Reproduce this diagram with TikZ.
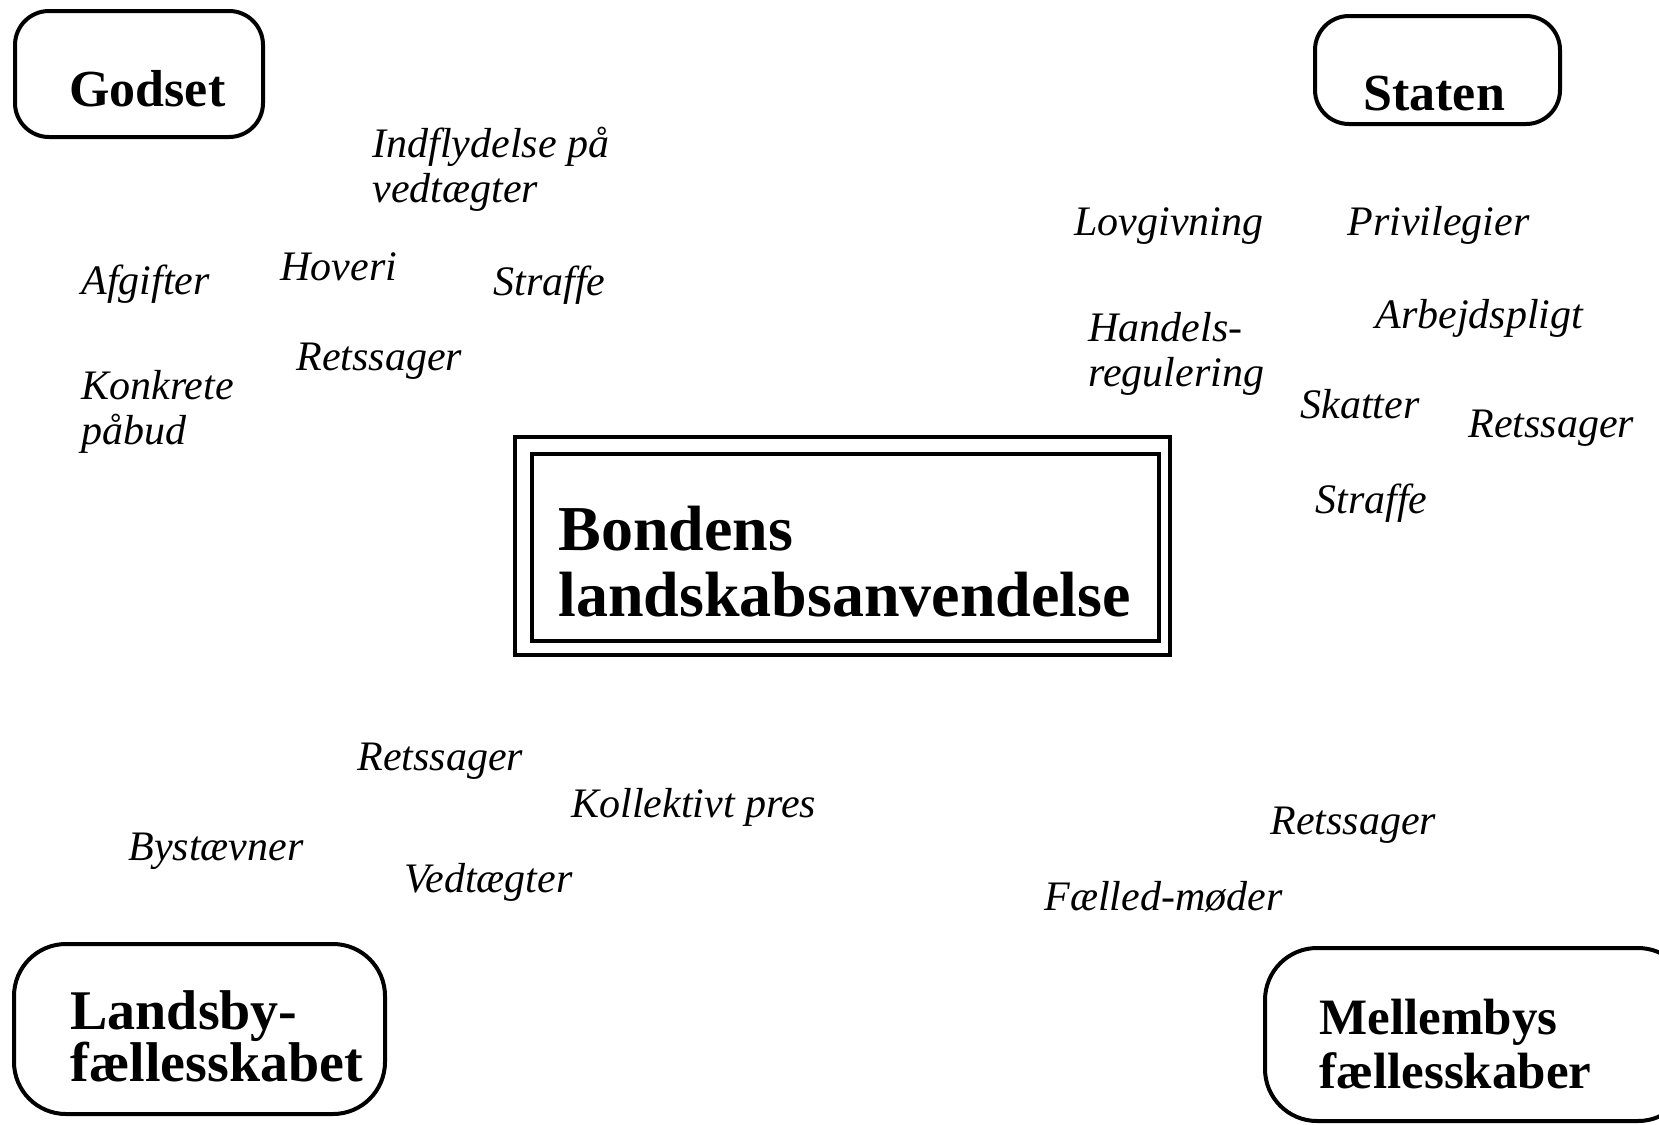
\documentclass[tikz,border=0pt]{standalone}
\usepackage{fontspec}
\setmainfont{Liberation Serif}
\begin{document}
\begin{tikzpicture}[x=0.5pt,y=-0.5pt,
  lbl/.style={anchor=base west,inner sep=0pt,font=\fontsize{21}{22.5}\selectfont\itshape,align=left},
  ttl/.style={anchor=base west,inner sep=0pt,font=\fontsize{26}{26}\selectfont\bfseries,align=left},
  frame/.style={line width=2pt,rounded corners=17pt}]
\useasboundingbox (0,0) rectangle (1659,1124);
\clip (0,0) rectangle (1659,1124);
% corner boxes
\draw[frame] (15,11) rectangle (263,137);
\draw[frame] (1315,16) rectangle (1560,124);
\draw[frame,rounded corners=26pt] (14,944) rectangle (385,1114);
\draw[frame,rounded corners=26pt] (1265,948) rectangle (1690,1121);
\node[ttl] (godset) at (69,106) {Godset};
\node[ttl] (staten) at (1363,110) {Staten};
\node[ttl,font=\fontsize{28}{26}\selectfont\bfseries] (landsby) at (70,1081) {Landsby-\\fællesskabet};
\node[ttl,font=\fontsize{25.5}{27}\selectfont\bfseries] (mellemby) at (1319,1088) {Mellembys\\fællesskaber};
% center box
\draw[line width=2pt] (515,437) rectangle (1170,655);
\draw[line width=2pt] (532,454) rectangle (1159,641);
\node[ttl,font=\fontsize{32}{33}\selectfont\bfseries] (bonde) at (558,616) {Bondens\\landskabsanvendelse};
% Godset labels
\node[lbl] (indfl) at (372,202) {Indflydelse på\\vedtægter};
\node[lbl] (afg) at (81,294) {Afgifter};
\node[lbl] (hov) at (280,280) {Hoveri};
\node[lbl] (strL) at (493,295) {Straffe};
\node[lbl] (retL) at (296,370) {Retssager};
\node[lbl] (konk) at (81,444) {Konkrete\\påbud};
% Staten labels
\node[lbl] (lov) at (1074,235) {Lovgivning};
\node[lbl] (priv) at (1347,235) {Privilegier};
\node[lbl] (arb) at (1375,328) {Arbejdspligt};
\node[lbl] (handel) at (1088,386) {Handels-\\regulering};
\node[lbl] (skat) at (1300,418) {Skatter};
\node[lbl] (retR) at (1468,437) {Retssager};
\node[lbl] (strR) at (1315,513) {Straffe};
% Landsby labels
\node[lbl] (retBL) at (357,770) {Retssager};
\node[lbl] (koll) at (571,817) {Kollektivt pres};
\node[lbl] (byst) at (128,860) {Bystævner};
\node[lbl] (vedt) at (404,892) {Vedtægter};
% Mellemby labels
\node[lbl] (retBR) at (1270,834) {Retssager};
\node[lbl] (faelled) at (1044,910) {Fælled-møder};
\end{tikzpicture}
\end{document}
